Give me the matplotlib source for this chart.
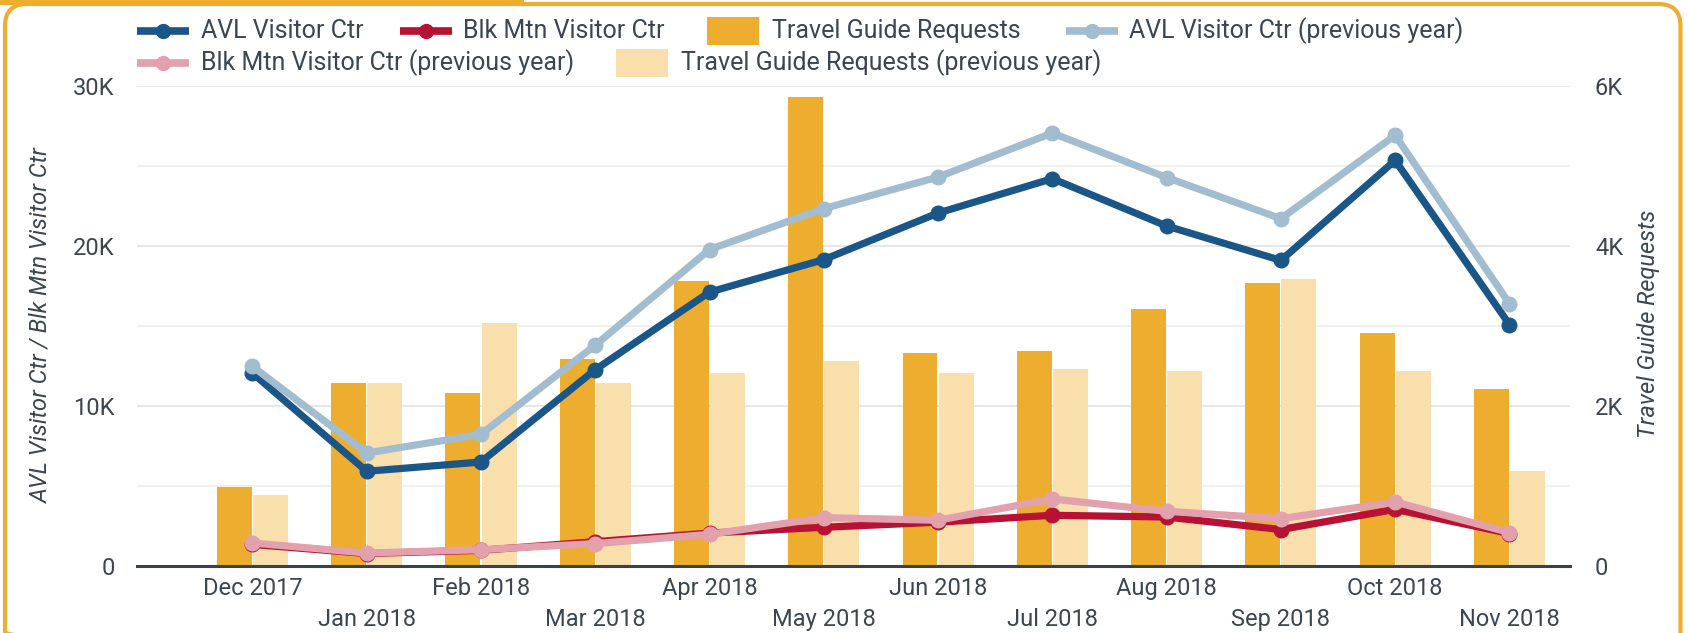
import matplotlib
matplotlib.use("Agg")
import matplotlib.pyplot as plt
from matplotlib.patches import FancyBboxPatch, Rectangle
from matplotlib.lines import Line2D
import numpy as np

months = ["Dec 2017", "Jan 2018", "Feb 2018", "Mar 2018", "Apr 2018", "May 2018",
          "Jun 2018", "Jul 2018", "Aug 2018", "Sep 2018", "Oct 2018", "Nov 2018"]
avl = [12060, 5920, 6500, 12270, 17120, 19150, 22060, 24210, 21250, 19100, 25350, 15090]
avl_prev = [12480, 7060, 8230, 13800, 19780, 22340, 24310, 27060, 24280, 21710, 26920, 16400]
blk = [1350, 780, 980, 1520, 2060, 2420, 2740, 3170, 3060, 2280, 3540, 2030]
blk_prev = [1440, 810, 1020, 1400, 1980, 3020, 2860, 4190, 3420, 2960, 4000, 2090]
guides = [984, 2284, 2159, 2584, 3559, 5859, 2659, 2684, 3209, 3534, 2909, 2209]
guides_prev = [884, 2284, 3034, 2284, 2409, 2559, 2409, 2459, 2434, 3584, 2434, 1184]

C_AVL = "#1a5687"
C_BLK = "#b71234"
C_GUIDE = "#edae30"
C_AVLP = "#a3bdd0"
C_BLKP = "#e2a1ad"
C_GUIDEP = "#f8dfab"
C_TXT = "#3b4650"
C_BORDER = "#edae30"

plt.rcParams['font.family'] = ['Roboto', 'DejaVu Sans']

W, H = 1688, 633
fig = plt.figure(figsize=(W / 100, H / 100), dpi=100)

L, R, T, B = 137, 1570, 86, 566
ax2 = fig.add_axes([L / W, (H - B) / H, (R - L) / W, (B - T) / H])
ax = ax2.twinx()
ax.set_zorder(ax2.get_zorder() + 1)
ax.patch.set_visible(False)

x = np.arange(len(months))
bw = 0.306
gap = 0.005
ax2.bar(x - bw / 2 - gap, guides, width=bw, color=C_GUIDE, zorder=2)
ax2.bar(x + bw / 2 + gap, guides_prev, width=bw, color=C_GUIDEP, zorder=2)

ax2.set_ylim(0, 6000)
ax2.set_xlim(-1.01, 11.53)
ax2.set_yticks([0, 2000, 4000, 6000])
ax2.set_yticks([1000, 3000, 5000], minor=True)
ax2.grid(True, which='major', axis='y', color='#e6e6e6', lw=1.4, zorder=0)
ax2.grid(True, which='minor', axis='y', color='#efefef', lw=1.3, zorder=0)
ax2.set_axisbelow(True)

lw = 5.2
ms = 10.5
ax.plot(x, avl, color=C_AVL, lw=lw, marker='o', ms=ms, zorder=3, solid_joinstyle='round')
ax.plot(x, avl_prev, color=C_AVLP, lw=lw, marker='o', ms=ms, zorder=4, solid_joinstyle='round')
ax.plot(x, blk, color=C_BLK, lw=lw, marker='o', ms=ms, zorder=3, solid_joinstyle='round')
ax.plot(x, blk_prev, color=C_BLKP, lw=lw, marker='o', ms=ms, zorder=4, solid_joinstyle='round')
ax.set_ylim(0, 30000)
ax.set_xlim(-1.01, 11.53)
ax.set_yticks([0, 10000, 20000, 30000])

def kfmt(v):
    return "0" if v == 0 else f"{int(v / 1000)}K"

ax.set_yticklabels([kfmt(v) for v in [0, 10000, 20000, 30000]])
ax2.set_yticklabels([kfmt(v) for v in [0, 2000, 4000, 6000]])

ax.yaxis.tick_left()
ax2.yaxis.tick_right()

fs = 17
ax.tick_params(axis='y', length=0, pad=16, labelsize=fs, colors=C_TXT)
ax2.tick_params(axis='y', which='both', length=0, pad=18, labelsize=fs, colors=C_TXT)

ax2.set_xticks(x[0::2])
ax2.set_xticklabels(months[0::2])
ax2.set_xticks(x[1::2], minor=True)
ax2.set_xticklabels(months[1::2], minor=True)
ax2.tick_params(axis='x', which='major', length=0, pad=8, labelsize=fs, colors=C_TXT)
ax2.tick_params(axis='x', which='minor', length=0, pad=30, labelsize=fs, colors=C_TXT)
ax.tick_params(axis='x', which='both', bottom=False, labelbottom=False, top=False, labeltop=False)

for a in (ax, ax2):
    for s in a.spines.values():
        s.set_visible(False)
ax2.spines['bottom'].set_visible(True)
ax2.spines['bottom'].set_color('#37424a')
ax2.spines['bottom'].set_linewidth(2.2)
ax2.spines['bottom'].set_zorder(5)

fig.text(41 / W, 1 - 325 / H, "AVL Visitor Ctr / Blk Mtn Visitor Ctr", rotation=90,
         ha='center', va='center', fontsize=fs, style='italic', color=C_TXT)
fig.text(1649 / W, 1 - 324 / H, "Travel Guide Requests", rotation=90,
         ha='center', va='center', fontsize=fs, style='italic', color=C_TXT)

ov = fig.add_axes([0, 0, 1, 1], zorder=10)
ov.set_xlim(0, W)
ov.set_ylim(H, 0)
ov.axis('off')
ov.patch.set_visible(False)

def line_handle(x0, y, c):
    ov.add_line(Line2D([x0, x0 + 52], [y, y], color=c, lw=5.5, solid_capstyle='butt'))
    ov.add_line(Line2D([x0 + 26], [y], color=c, marker='o', ms=10, lw=0))

def box_handle(x0, y, c):
    ov.add_patch(Rectangle((x0, y - 14), 52, 28, color=c, lw=0))

r1, r2 = 31, 63
lfs = 18
line_handle(137, r1, C_AVL); ov.text(201, r1, "AVL Visitor Ctr", fontsize=lfs, color=C_TXT, va='center')
line_handle(400, r1, C_BLK); ov.text(463, r1, "Blk Mtn Visitor Ctr", fontsize=lfs, color=C_TXT, va='center')
box_handle(707, r1, C_GUIDE); ov.text(772, r1, "Travel Guide Requests", fontsize=lfs, color=C_TXT, va='center')
line_handle(1066, r1, C_AVLP); ov.text(1129, r1, "AVL Visitor Ctr (previous year)", fontsize=lfs, color=C_TXT, va='center')
line_handle(137, r2, C_BLKP); ov.text(201, r2, "Blk Mtn Visitor Ctr (previous year)", fontsize=lfs, color=C_TXT, va='center')
box_handle(616, r2, C_GUIDEP); ov.text(681, r2, "Travel Guide Requests (previous year)", fontsize=lfs, color=C_TXT, va='center')

ov.add_patch(FancyBboxPatch((5, 4), 1675.5, 650, boxstyle="round,pad=0,rounding_size=22",
                            fill=False, ec=C_BORDER, lw=3))
ov.add_patch(Rectangle((0, 0), 524, 5, color=C_BORDER, lw=0))

fig.savefig("out.png", dpi=100)
